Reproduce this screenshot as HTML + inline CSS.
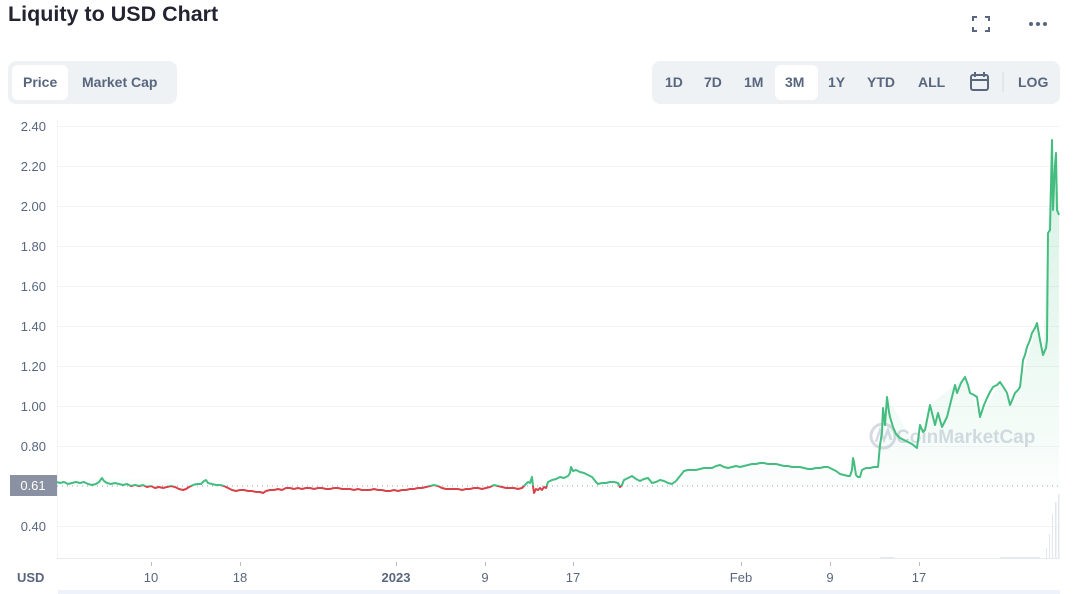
<!DOCTYPE html>
<html><head><meta charset="utf-8"><style>
html,body{margin:0;padding:0;background:#fff;}
body{width:1080px;height:594px;position:relative;overflow:hidden;font-family:"Liberation Sans",sans-serif;}
.t{position:absolute;white-space:nowrap;}
</style></head><body>
<div class="t" style="left:8px;top:2px;font-size:21.5px;font-weight:bold;color:#222531;">Liquity to USD Chart</div>

<div style="position:absolute;left:8px;top:61px;width:169px;height:43px;background:#eff2f5;border-radius:8px;"></div>
<div style="position:absolute;left:12px;top:65px;width:56px;height:35px;background:#fff;border-radius:6px;"></div>
<div class="t" style="left:23px;top:74px;font-size:14px;font-weight:bold;color:#58667e;">Price</div>
<div class="t" style="left:82px;top:74px;font-size:14px;font-weight:bold;color:#58667e;">Market Cap</div>

<div style="position:absolute;left:652px;top:61px;width:408px;height:43px;background:#eff2f5;border-radius:8px;"></div>
<div style="position:absolute;left:775px;top:65px;width:43px;height:35px;background:#fff;border-radius:6px;"></div>
<div class="t" style="left:665px;top:74px;font-size:14px;font-weight:bold;color:#58667e;">1D</div>
<div class="t" style="left:704px;top:74px;font-size:14px;font-weight:bold;color:#58667e;">7D</div>
<div class="t" style="left:744px;top:74px;font-size:14px;font-weight:bold;color:#58667e;">1M</div>
<div class="t" style="left:785px;top:74px;font-size:14px;font-weight:bold;color:#58667e;">3M</div>
<div class="t" style="left:828px;top:74px;font-size:14px;font-weight:bold;color:#58667e;">1Y</div>
<div class="t" style="left:867px;top:74px;font-size:14px;font-weight:bold;color:#58667e;">YTD</div>
<div class="t" style="left:918px;top:74px;font-size:14px;font-weight:bold;color:#58667e;">ALL</div>
<div class="t" style="left:1018px;top:74px;font-size:14px;font-weight:bold;color:#58667e;">LOG</div>

<svg width="1080" height="594" style="position:absolute;left:0;top:0;" xmlns="http://www.w3.org/2000/svg">
<defs>
<clipPath id="up"><rect x="0" y="0" width="1080" height="486"/></clipPath>
<clipPath id="dn"><rect x="0" y="486" width="1080" height="120"/></clipPath>
<linearGradient id="g" x1="0" y1="140" x2="0" y2="486" gradientUnits="userSpaceOnUse">
<stop offset="0" stop-color="#3cbf7e" stop-opacity="0.22"/>
<stop offset="1" stop-color="#3cbf7e" stop-opacity="0.02"/>
</linearGradient>
</defs>
<g stroke="#58667e" stroke-width="2" fill="none">
<path d="M973 21 V17 H977 M985 17 H989 V21 M989 27 V31 H985 M977 31 H973 V27"/>
<rect x="971" y="75" width="17" height="15" rx="2"/>
<path d="M971 80 H988 M975 72 V77 M984 72 V77"/>
</g>
<circle cx="1031" cy="24" r="2" fill="#58667e"/><circle cx="1038" cy="24" r="2" fill="#58667e"/><circle cx="1045" cy="24" r="2" fill="#58667e"/>
<line x1="1003" y1="72" x2="1003" y2="92" stroke="#d5dae2" stroke-width="1"/>

<g stroke="#f3f4f6" stroke-width="1">
<line x1="57" y1="126.5" x2="1060" y2="126.5"/><line x1="57" y1="166.5" x2="1060" y2="166.5"/>
<line x1="57" y1="206.5" x2="1060" y2="206.5"/><line x1="57" y1="246.5" x2="1060" y2="246.5"/>
<line x1="57" y1="286.5" x2="1060" y2="286.5"/><line x1="57" y1="326.5" x2="1060" y2="326.5"/>
<line x1="57" y1="366.5" x2="1060" y2="366.5"/><line x1="57" y1="406.5" x2="1060" y2="406.5"/>
<line x1="57" y1="446.5" x2="1060" y2="446.5"/><line x1="57" y1="526.5" x2="1060" y2="526.5"/>
<line x1="57.5" y1="120" x2="57.5" y2="558"/>
</g>
<line x1="57" y1="558.5" x2="1060" y2="558.5" stroke="#e8eaee" stroke-width="1"/>
<g stroke="#b8bfca" stroke-width="1">
<line x1="151.5" y1="562" x2="151.5" y2="566"/><line x1="240.5" y1="562" x2="240.5" y2="566"/>
<line x1="396.5" y1="562" x2="396.5" y2="566"/><line x1="485.5" y1="562" x2="485.5" y2="566"/>
<line x1="573.5" y1="562" x2="573.5" y2="566"/><line x1="741.5" y1="562" x2="741.5" y2="566"/>
<line x1="830.5" y1="562" x2="830.5" y2="566"/><line x1="919.5" y1="562" x2="919.5" y2="566"/>
</g>
<rect x="58" y="590" width="1002" height="4" fill="#eef2fb"/>

<g fill="#e3e7ef">
<rect x="880" y="557" width="14" height="1"/><rect x="1000" y="557" width="40" height="1"/>
<rect x="1046" y="548" width="1" height="10"/><rect x="1049" y="534" width="1" height="24"/>
<rect x="1052" y="514" width="1" height="44"/><rect x="1055" y="502" width="1.5" height="56"/>
<rect x="1058" y="494" width="1.5" height="64"/>
</g>

<g opacity="0.45">
<circle cx="883" cy="436" r="12" fill="none" stroke="#a6b0c3" stroke-width="3"/>
<path d="M876 442 L880 430 L884 440 L888 430 L891 440" fill="none" stroke="#a6b0c3" stroke-width="2.5"/>
<text x="896" y="443" font-family="Liberation Sans, sans-serif" font-size="19" font-weight="bold" fill="#a6b0c3">CoinMarketCap</text>
</g>

<line x1="57" y1="486" x2="1060" y2="486" stroke="#9aa2b0" stroke-width="1" stroke-dasharray="1,4"/>

<path clip-path="url(#up)" fill="url(#g)" d="M57 486 L57 482 L102 478 L206 480 L230 486 L520 486 L526 484 L532 477 L548 482 L571 467 L596 482 L630 476 L680 476 L720 465 L760 463 L830 467 L850 476 L853 458 L858 477 L878 467 L887 397 L917 448 L930 405 L955 385 L965 377 L980 417 L1000 382 L1010 405 L1020 387 L1037 323 L1043 355 L1048 233 L1052 140 L1053 210 L1056 153 L1059 215 L1059 486 Z"/>

<g fill="none" stroke-width="2" stroke-linejoin="round">
<polyline id="pl" clip-path="url(#up)" stroke="#45bd80" points="57,482 60,483 64,482 68,484 72,483 76,482 80,483 84,482 88,484 92,485 96,484 99,482 102,478 104,481 107,483 111,484 115,483 119,484 123,485 127,484 131,486 135,485 139,486 143,485 147,487 151,486 155,488 159,487 163,488 167,487 171,486 175,487 179,489 183,490 186,489 189,487 193,485 197,484 201,484 204,481 206,480 208,483 212,484 216,485 220,485 224,486 228,488 232,490 236,491 240,490 244,490 248,491 252,491 256,492 260,492 263,493 266,491 270,490 274,490 278,489 282,490 286,488 290,488 294,489 298,488 302,489 306,488 310,488 314,489 318,488 322,488 326,489 330,489 334,488 338,488 342,489 346,489 350,489 354,490 358,489 362,490 366,490 370,490 374,489 378,490 382,490 386,491 390,491 394,490 398,491 402,490 406,490 410,489 414,489 418,488 422,488 426,487 430,486 434,485 438,486 442,488 446,489 450,489 454,489 458,489 462,490 466,489 470,489 474,488 478,488 482,489 486,488 490,487 494,485 498,486 502,487 506,488 510,488 514,488 518,489 522,488 526,484 528,482 530,483 532,477 533,486 534,493 536,489 538,490 540,488 542,490 544,487 546,488 548,482 552,480 556,479 560,477 564,478 568,476 570,473 571,467 573,471 576,470 580,472 584,473 588,475 592,477 596,482 598,484 602,483 606,483 610,482 614,482 618,483 620,487 622,485 624,480 628,478 632,476 636,479 640,481 644,479 648,478 652,483 656,482 660,480 664,481 668,483 672,484 676,481 680,476 684,471 688,470 692,470 696,470 700,469 704,468 708,468 712,468 716,466 720,465 724,467 728,468 732,467 736,466 740,467 744,466 748,465 752,464 756,464 760,463 764,463 768,464 772,464 776,464 780,465 784,466 788,466 792,467 796,467 800,467 804,468 808,469 812,469 816,468 820,468 824,467 828,467 832,469 836,471 840,474 844,475 848,476 850,476 852,470 853,458 854,462 856,475 858,477 860,477 862,470 866,468 870,468 874,467 878,467 880,445 882,432 883,408 885,425 887,397 889,412 890,417 893,427 896,434 900,438 904,440 908,442 912,444 917,448 920,425 923,432 925,430 930,405 935,425 938,413 942,427 947,417 952,397 955,385 957,393 961,383 965,377 968,385 970,393 974,395 977,397 980,417 984,405 987,398 990,392 993,387 997,385 1000,382 1004,388 1007,393 1010,405 1013,398 1015,393 1018,390 1020,387 1022,370 1023,360 1025,355 1027,347 1030,340 1032,333 1035,328 1037,323 1040,340 1043,355 1046,348 1047,340 1048,233 1050,230 1052,140 1053,210 1055,165 1056,153 1057,210 1059,215"/>
</g>
<polyline clip-path="url(#dn)" fill="none" stroke="#d8434a" stroke-width="2" stroke-linejoin="round" points="57,482 60,483 64,482 68,484 72,483 76,482 80,483 84,482 88,484 92,485 96,484 99,482 102,478 104,481 107,483 111,484 115,483 119,484 123,485 127,484 131,486 135,485 139,486 143,485 147,487 151,486 155,488 159,487 163,488 167,487 171,486 175,487 179,489 183,490 186,489 189,487 193,485 197,484 201,484 204,481 206,480 208,483 212,484 216,485 220,485 224,486 228,488 232,490 236,491 240,490 244,490 248,491 252,491 256,492 260,492 263,493 266,491 270,490 274,490 278,489 282,490 286,488 290,488 294,489 298,488 302,489 306,488 310,488 314,489 318,488 322,488 326,489 330,489 334,488 338,488 342,489 346,489 350,489 354,490 358,489 362,490 366,490 370,490 374,489 378,490 382,490 386,491 390,491 394,490 398,491 402,490 406,490 410,489 414,489 418,488 422,488 426,487 430,486 434,485 438,486 442,488 446,489 450,489 454,489 458,489 462,490 466,489 470,489 474,488 478,488 482,489 486,488 490,487 494,485 498,486 502,487 506,488 510,488 514,488 518,489 522,488 526,484 528,482 530,483 532,477 533,486 534,493 536,489 538,490 540,488 542,490 544,487 546,488 548,482 552,480 556,479 560,477 564,478 568,476 570,473 571,467 573,471 576,470 580,472 584,473 588,475 592,477 596,482 598,484 602,483 606,483 610,482 614,482 618,483 620,487 622,485 624,480 628,478"/>

<g font-family="Liberation Sans, sans-serif" font-size="13" fill="#58667e" text-anchor="end">
<text x="46" y="131">2.40</text><text x="46" y="171">2.20</text><text x="46" y="211">2.00</text>
<text x="46" y="251">1.80</text><text x="46" y="291">1.60</text><text x="46" y="331">1.40</text>
<text x="46" y="371">1.20</text><text x="46" y="411">1.00</text><text x="46" y="451">0.80</text>
<text x="46" y="531">0.40</text>
</g>
<rect x="10" y="475" width="47" height="21" fill="#8a91a2"/>
<text x="33" y="490" font-family="Liberation Sans, sans-serif" font-size="13" fill="#fff" text-anchor="middle">0.61</text>

<g font-family="Liberation Sans, sans-serif" font-size="13" fill="#58667e" text-anchor="middle">
<text x="151" y="582">10</text><text x="240" y="582">18</text>
<text x="396" y="582" font-weight="bold">2023</text>
<text x="485" y="582">9</text><text x="573" y="582">17</text><text x="741" y="582">Feb</text>
<text x="830" y="582">9</text><text x="919" y="582">17</text>
</g>
<text x="17" y="582" font-family="Liberation Sans, sans-serif" font-size="13" font-weight="bold" fill="#58667e">USD</text>
</svg>
</body></html>
